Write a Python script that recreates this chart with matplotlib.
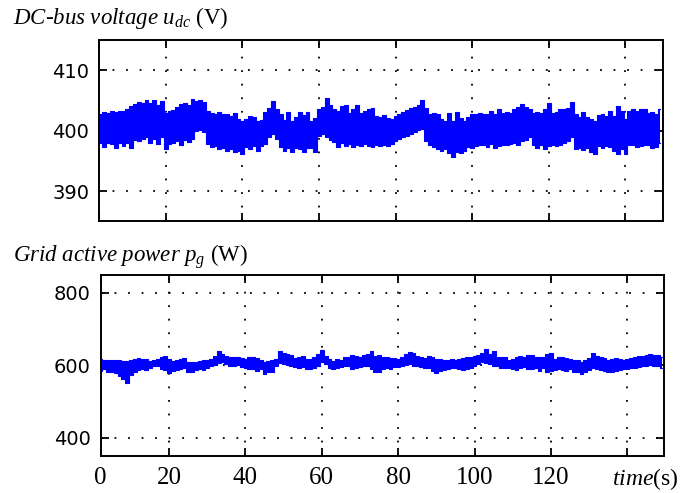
import numpy as np
import matplotlib.pyplot as plt
from matplotlib.transforms import blended_transform_factory

plt.rcParams['mathtext.fontset'] = 'custom'
plt.rcParams['mathtext.rm'] = 'Liberation Serif'
plt.rcParams['mathtext.it'] = 'Liberation Serif:italic'

# sample times (s), one envelope reading per second
t = np.arange(2, 150)

# DC-bus voltage band, upper / lower edge (V)
udc_hi = [403.5, 402.8, 403.1, 402.9, 403.2, 403.1, 403.3, 403.2, 403.6, 404.0,
          404.4, 404.8, 404.6, 405.0, 404.5, 405.1, 404.3, 404.9, 403.0, 403.2,
          403.4, 403.9, 404.4, 404.6, 404.3, 405.3, 404.9, 405.1, 404.8, 403.3,
          402.9, 402.8, 403.1, 402.7, 402.8, 402.4, 403.0, 401.9, 401.6,
          402.0, 402.4, 402.2, 401.6, 401.7, 403.1, 403.8, 404.9, 403.6, 402.8,
          401.7, 403.1, 401.6, 402.2, 403.1, 402.6, 403.1, 401.6, 402.1, 403.5,
          403.9, 405.4, 404.2, 403.6, 403.2, 404.0, 404.3, 402.9, 403.6, 404.3,
          402.9, 403.2, 403.5, 403.8, 402.4, 402.2, 402.6, 402.1,
          402.0, 402.4, 402.8, 403.1, 403.4, 403.7, 403.9, 404.2, 405.0, 403.7,
          402.7, 402.9, 402.7, 401.9, 401.6, 402.9, 401.6, 403.1, 402.1, 401.6,
          402.3, 402.7, 402.7, 402.9, 402.8, 402.7, 403.2, 402.7, 403.6, 402.9,
          403.1, 402.9, 403.6, 403.9, 404.4, 403.9, 403.6, 402.9,
          403.1, 402.9, 403.5, 404.6, 402.9, 403.1, 403.5, 403.6, 403.8, 404.8,
          402.8, 402.2, 403.1, 402.2, 401.9, 401.6, 402.6, 402.7, 402.4, 403.2,
          402.4, 404.0, 403.2, 402.0, 403.2, 403.5, 403.2, 403.6, 403.5, 402.9,
          403.1, 402.8, 403.5]
udc_lo = [398.9, 398.0, 397.3, 398.0, 397.8, 397.2, 398.0, 397.4, 398.0, 397.1,
          398.4, 398.3, 398.7, 398.9, 398.0, 398.7, 397.8, 398.9, 396.9, 397.8,
          398.0, 398.3, 397.7, 398.4, 398.2, 398.6, 400.0, 400.1, 399.7, 397.8,
          397.3, 397.4, 396.9, 397.2, 396.6, 396.9, 396.4, 396.6, 396.1,
          397.3, 396.9, 397.5, 396.7, 397.5, 397.8, 398.9, 399.4, 398.7, 397.3,
          396.6, 397.1, 396.5, 397.2, 396.9, 396.4, 397.2, 397.1, 396.5, 399.1,
          399.4, 398.9, 398.4, 398.2, 397.3, 398.0, 397.5, 397.8, 397.3, 397.7,
          397.5, 397.8, 397.5, 397.3, 397.6, 397.5, 397.7, 397.5,
          397.8, 398.3, 398.7, 398.9, 399.1, 399.4, 399.7, 400.1, 400.3, 398.3,
          397.7, 397.3, 396.9, 396.6, 396.9, 396.3, 395.6, 396.5, 396.3, 396.6,
          397.3, 397.2, 397.5, 397.6, 397.7, 397.3, 397.8, 397.2, 397.5, 397.7,
          397.6, 397.8, 398.0, 397.7, 398.3, 398.4, 398.9, 397.7,
          397.2, 397.7, 396.9, 397.5, 397.6, 397.5, 397.7, 398.0, 398.3, 398.9,
          396.9, 397.1, 396.8, 397.2, 396.5, 396.2, 397.4, 397.2, 397.5, 397.3,
          396.6, 396.1, 396.9, 396.1, 397.7, 397.6, 397.3, 397.5, 397.7, 397.6,
          397.2, 397.3, 398.0]

# grid active power band, upper / lower edge (W)
pg_hi = [617, 615, 613, 615, 613, 615, 612, 611, 615, 618,
         620, 617, 617, 612, 615, 618, 622, 626, 618, 612,
         615, 617, 620, 610, 608, 610, 612, 613, 615, 618,
         626, 640, 631, 626, 624, 622, 622, 620, 617,
         622, 624, 620, 615, 608, 611, 615, 617, 638, 634,
         631, 628, 620, 624, 626, 617, 618, 624, 631, 641,
         626, 617, 612, 617, 615, 624, 622, 629, 626, 624,
         629, 631, 638, 626, 628, 624, 622, 620,
         620, 618, 624, 631, 636, 634, 626, 624, 620, 626,
         622, 618, 617, 613, 615, 617, 613, 618, 620, 622,
         624, 626, 629, 634, 645, 631, 639, 622, 624, 622,
         615, 617, 624, 626, 624, 629, 628, 622,
         624, 622, 631, 633, 618, 624, 622, 620, 618, 615,
         613, 610, 615, 620, 634, 626, 624, 620, 615, 617,
         620, 618, 615, 618, 620, 624, 626, 626, 628, 631,
         628, 628, 622]
pg_lo = [585, 589, 582, 580, 578, 571, 563, 552, 572, 580,
         588, 589, 586, 591, 597, 599, 589, 586, 578, 585,
         586, 589, 591, 582, 580, 586, 589, 588, 593, 597,
         600, 606, 608, 604, 599, 597, 600, 594, 591,
         589, 589, 585, 589, 575, 580, 582, 597, 606, 604,
         600, 597, 594, 593, 595, 589, 589, 593, 599, 608,
         604, 593, 589, 591, 594, 597, 599, 589, 593, 595,
         599, 597, 589, 582, 580, 589, 591, 589,
         594, 594, 597, 600, 603, 599, 597, 594, 593, 591,
         584, 578, 583, 586, 589, 591, 593, 589, 588, 589,
         591, 597, 602, 608, 606, 602, 599, 597, 593, 591,
         591, 589, 586, 593, 595, 589, 589, 591,
         585, 593, 580, 583, 586, 589, 586, 583, 589, 582,
         580, 575, 582, 586, 593, 589, 588, 583, 580, 582,
         583, 588, 589, 589, 591, 593, 595, 597, 599, 600,
         599, 597, 591]

grid_t = [20, 40, 60, 80, 100, 120, 140]
x_labels = ['0', '20', '40', '60', '80', '100', '120', '']
udc_ticks = [390, 400, 410]
pg_ticks = [400, 600, 800]

blue = '#0000ff'
W, H = 694, 493
fig = plt.figure(figsize=(W / 100, H / 100), dpi=100)
ax1 = fig.add_axes([99 / W, 1 - 221.3 / H, 564 / W, 181.3 / H])
ax2 = fig.add_axes([100.7 / W, 1 - 455.7 / H, 563.3 / W, 181 / H])


def style_axes(ax, hi, lo, xlim, ylim, yticks, show_x):
    ax.fill_between(t, lo, hi, step='mid', color=blue, lw=0)
    ax.step(t, hi, where='mid', color=blue, lw=0.8)
    ax.step(t, lo, where='mid', color=blue, lw=0.8)
    ax.set_xlim(*xlim)
    ax.set_ylim(*ylim)
    ax.set_xticks([xlim[0]] + grid_t)
    ax.set_yticks(yticks)
    ax.set_axisbelow(True)
    ax.grid(True, color='black', linestyle=(0, (1, 6.5)), lw=1.3)
    ax.xaxis.get_gridlines()[0].set_visible(False)
    for s in ax.spines.values():
        s.set_linewidth(1.4)
    ax.tick_params(direction='in', length=6, width=1.3, top=True, right=True)
    ax.tick_params(axis='y', labelsize=14, pad=7)
    ax.set_yticklabels([str(v) for v in yticks], fontfamily='DejaVu Sans')
    if show_x:
        ax.set_xticklabels(x_labels, fontfamily='Liberation Serif', fontsize=18)
        ax.tick_params(axis='x', pad=8)
    else:
        ax.set_xticklabels([])


style_axes(ax1, udc_hi, udc_lo, (2.6, 149.8), (385, 415), udc_ticks, False)
style_axes(ax2, pg_hi, pg_lo, (2.1, 149.6), (350, 850), pg_ticks, True)

# x axis name sits where the 140 label would be
tr = blended_transform_factory(ax2.transData, ax2.transAxes)
ax2.text(144.6, -0.06, r'$\mathit{time}$(s)', transform=tr, ha='center', va='top',
         fontfamily='Liberation Serif', fontsize=17)

fig.text(13 / W, 1 - 24 / H, r'$\mathit{DC}$-$\mathit{bus\ voltage\ u_{dc}}$ (V)',
         fontfamily='Liberation Serif', fontsize=16.5, va='baseline')
fig.text(13 / W, 1 - 262 / H, r'$\mathit{Grid\ active\ power\ p_{g}}$ (W)',
         fontfamily='Liberation Serif', fontsize=16.5, va='baseline')

fig.savefig('out.png', dpi=100)
